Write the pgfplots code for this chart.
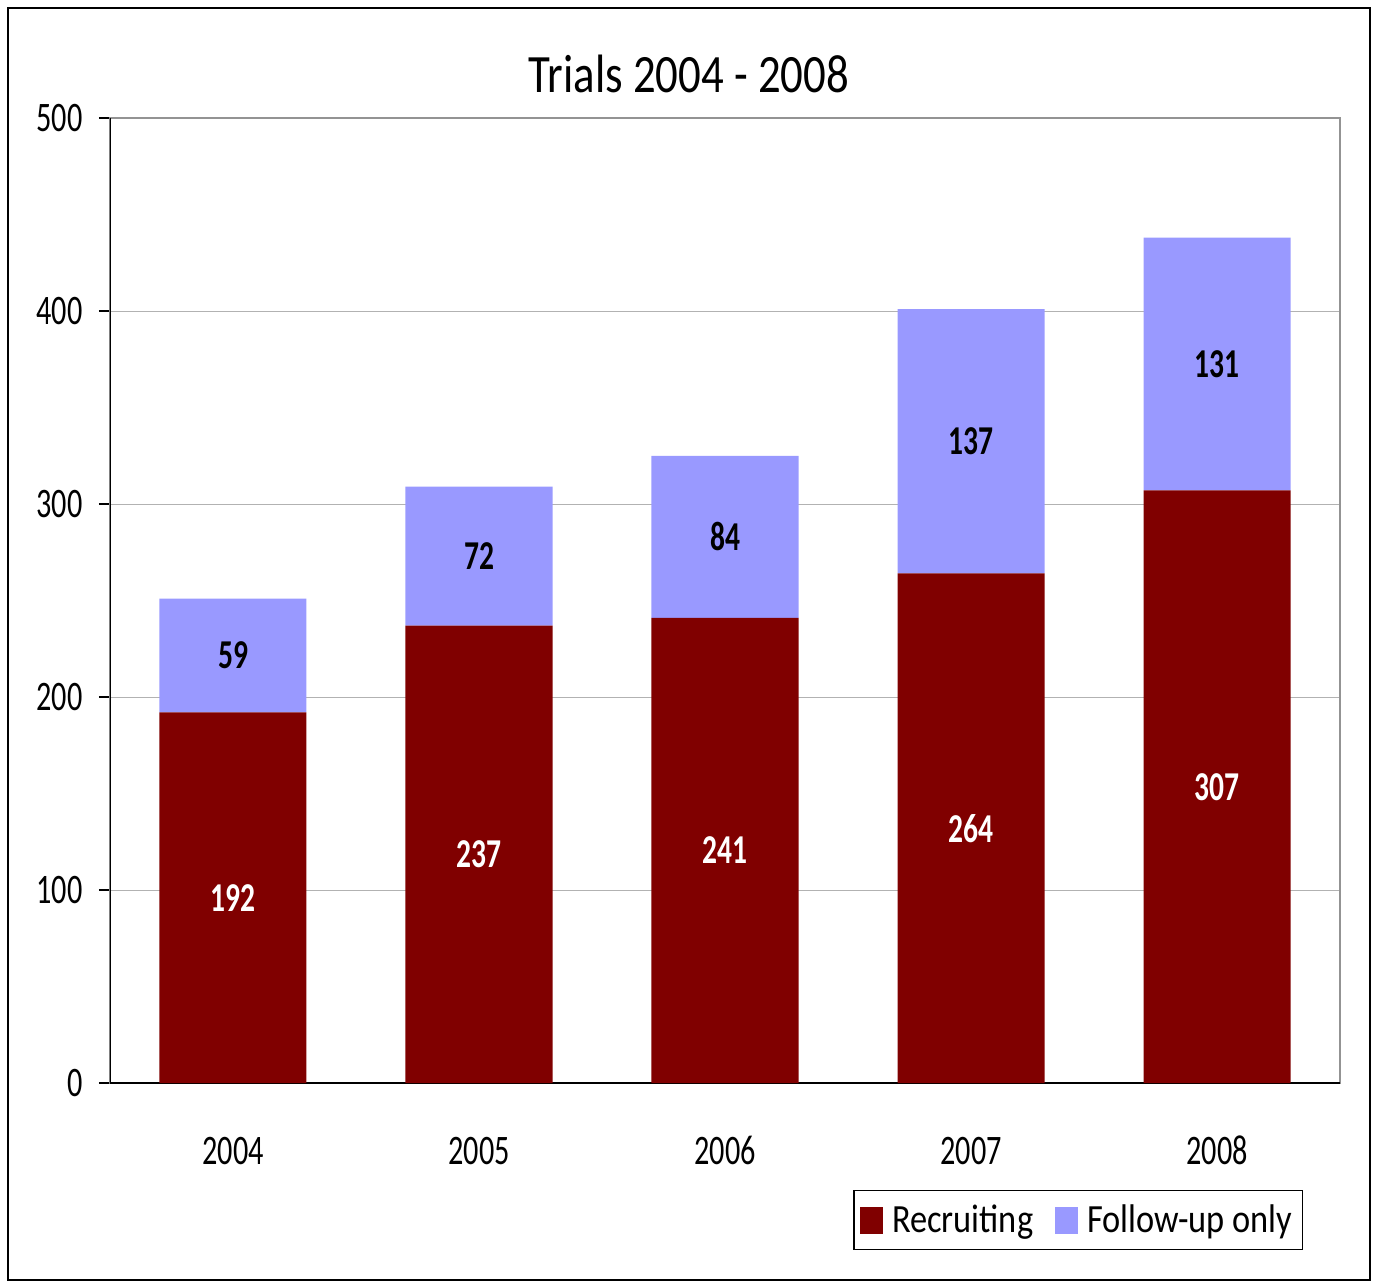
\documentclass[border=0pt]{standalone}
\usepackage{fontspec}
\setmainfont{Carlito}
\newfontfamily\tickfont{Carlito}[FakeStretch=0.72]
\newfontfamily\titlefont{Carlito}[FakeStretch=0.83]
\newfontfamily\legfont{Carlito}[FakeStretch=0.86]
\newfontfamily\lblfont{Carlito}[FakeStretch=0.72]
\usepackage{pgfplots}
\pgfplotsset{compat=1.18}
\definecolor{recr}{HTML}{800000}
\definecolor{foll}{HTML}{9999FF}
\begin{document}
\begin{tikzpicture}
\useasboundingbox (-55pt,-99.5pt) rectangle (634pt,541.5pt);
\draw[black, line width=0.8pt] (-51pt,-98.5pt) rectangle (630pt,537.5pt);
\begin{axis}[
  at={(0pt,0pt)}, anchor=south west,
  scale only axis,
  width=615pt, height=482.5pt,
  ybar stacked,
  bar width=73.5pt,
  xmin=-0.5, xmax=4.5,
  ymin=0, ymax=500,
  xtick={0,1,2,3,4},
  xticklabels={2004,2005,2006,2007,2008},
  xtick pos=bottom, ytick pos=left,
  major x tick style={draw=none},
  extra x ticks={-0.5,0.5,1.5,2.5,3.5,4.5},
  extra x tick labels={},
  extra x tick style={tick align=outside, major tick length=6pt, tick style={black, line width=0.6pt}, grid=none},
  ytick={0,100,200,300,400,500},
  ymajorgrids,
  grid style={gray!60, line width=0.5pt},
  y tick style={black, line width=0.6pt},
  tick align=outside,
  major tick length=5.5pt,
  axis line style={draw=gray!85, line width=1pt},
  /pgf/number format/assume math mode=true,
  ticklabel style={font=\tickfont\fontsize{21pt}{25pt}\selectfont},
  yticklabel style={anchor=east, inner sep=0pt, xshift=-8pt},
  xticklabel style={anchor=north, inner sep=0pt, text height=13.5pt, text depth=0pt, yshift=-21.5pt},
  title={Trials 2004 - 2008},
  title style={font=\titlefont\fontsize{27pt}{32pt}\selectfont, at={(0.4707,1.0332)}, anchor=center},
  visualization depends on={rawy \as \rawy},
  nodes near coords={\pgfmathprintnumber[fixed,precision=0]{\rawy}},
  every node near coord/.append style={anchor=center, font=\lblfont\bfseries\fontsize{20.5pt}{24pt}\selectfont},
  legend style={draw=black, line width=0.6pt, at={(0.970,-0.1109)}, anchor=north east,
    font=\legfont\fontsize{20pt}{24pt}\selectfont, inner xsep=3pt, inner ysep=5pt,
    /tikz/every even column/.append style={column sep=9pt}},
  legend columns=2,
  legend image code/.code={\fill[#1] (0pt,-6.75pt) rectangle (11.5pt,6.75pt); \path (14pt,0pt);},
]
\addplot[fill=recr, draw=none, every node near coord/.append style={text=white}] coordinates {(0,192) (1,237) (2,241) (3,264) (4,307)};
\addplot[fill=foll, draw=none, every node near coord/.append style={text=black}] coordinates {(0,59) (1,72) (2,84) (3,137) (4,131)};
\legend{Recruiting, Follow-up only}
\draw[black, line width=0.6pt] (rel axis cs:0,1) -- (rel axis cs:0,0) -- (rel axis cs:1,0);
\end{axis}
\end{tikzpicture}
\end{document}
